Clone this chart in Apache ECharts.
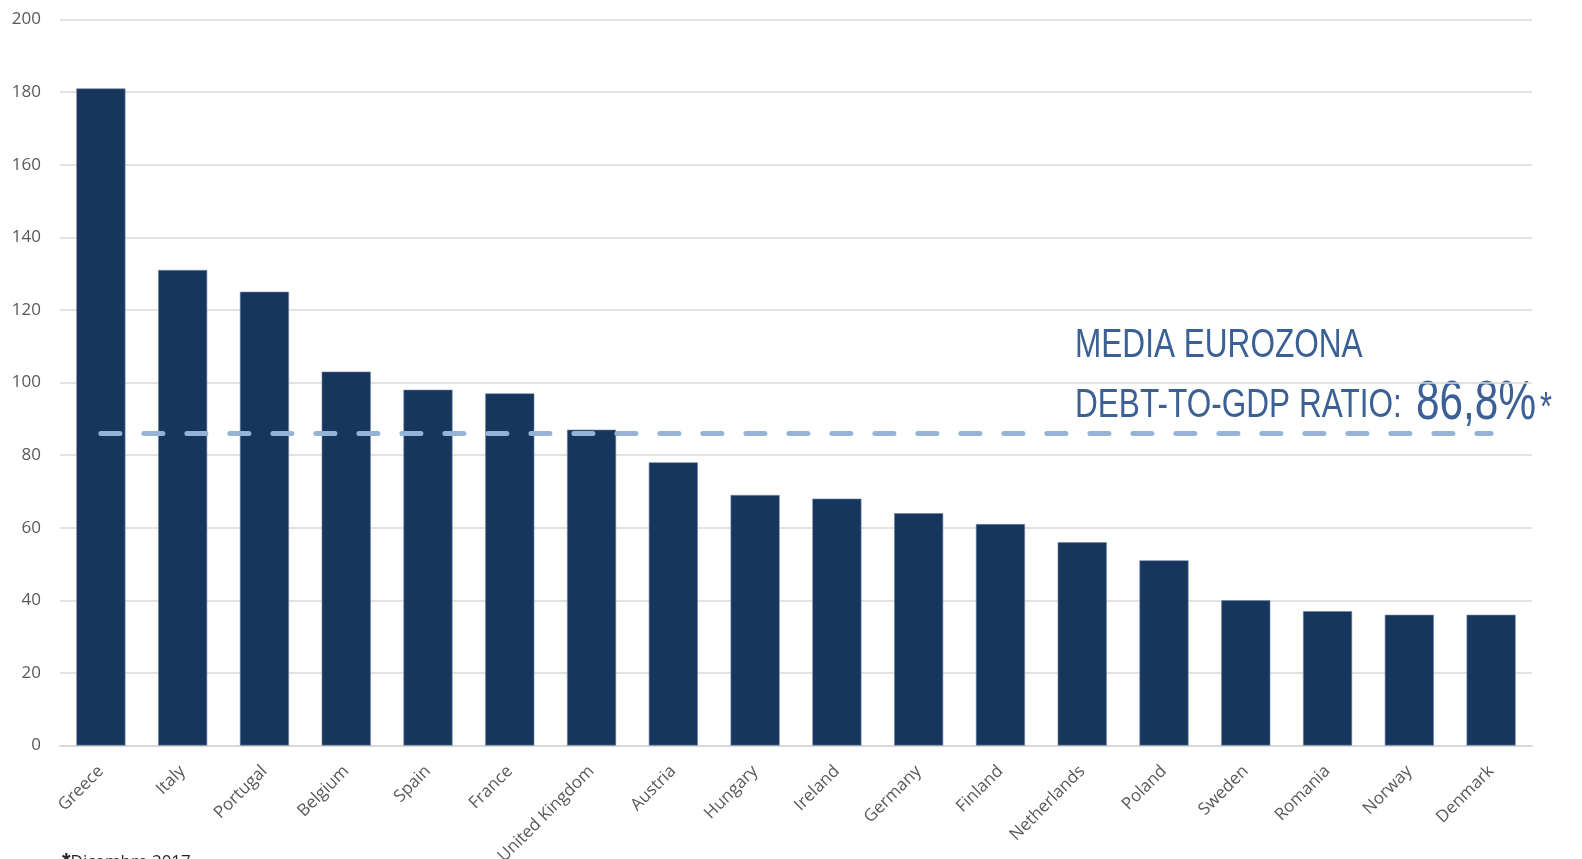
<!DOCTYPE html>
<html>
<head>
<meta charset="utf-8">
<script src="https://cdn.jsdelivr.net/npm/echarts@6/dist/echarts.min.js"></script>
<style>
  html, body { margin: 0; padding: 0; background: #fff; }
  #chart { width: 1582px; height: 859px; }
</style>
</head>
<body>
<div id="chart"></div>
<script>
var countries = ['Greece', 'Italy', 'Portugal', 'Belgium', 'Spain', 'France', 'United Kingdom', 'Austria',
  'Hungary', 'Ireland', 'Germany', 'Finland', 'Netherlands', 'Poland', 'Sweden', 'Romania', 'Norway', 'Denmark'];
var debtRatio = [181, 131, 125, 103, 98, 97, 87, 78, 69, 68, 64, 61, 56, 51, 40, 37, 36, 36];
var euroAvg = 86;
var yTicks = [0, 200, 20];

var chart = echarts.init(document.getElementById('chart'));
var sans = "'Liberation Sans', Arial, sans-serif";
var blue = '#3b6095';

// condensed look: squeeze regular sans horizontally
function note(txt, x, y, size) {
  return {
    type: 'text', x: x, y: y, scaleX: 0.77, originX: 0,
    style: { text: txt, fill: blue, font: size + 'px ' + sans }
  };
}

chart.setOption({
  animation: false,
  grid: { left: 60, right: 50, top: 19.5, bottom: 113.5, containLabel: false, outerBoundsMode: 'none' },
  xAxis: {
    type: 'category',
    data: countries,
    axisTick: { show: false },
    axisLine: { lineStyle: { color: '#d9d9d9', width: 2 } },
    axisLabel: { rotate: 45, color: '#595959', fontSize: 17, fontFamily: "'Open Sans', sans-serif", margin: 23, interval: 0 }
  },
  yAxis: {
    type: 'value',
    min: yTicks[0], max: yTicks[1], interval: yTicks[2],
    axisLine: { show: false },
    axisTick: { show: false },
    splitLine: { lineStyle: { color: '#d9d9d9', width: 1.5 } },
    axisLabel: { color: '#595959', fontSize: 17, fontFamily: "'Open Sans', sans-serif", margin: 19 }
  },
  series: [{
    type: 'bar',
    data: debtRatio,
    barCategoryGap: '40%',
    itemStyle: { color: '#17365d', borderColor: '#6d84a3', borderWidth: 0.6 },
    markLine: {
      silent: true,
      symbol: 'none',
      label: { show: false },
      lineStyle: { color: '#95b3d7', width: 5, type: [19, 24], cap: 'round' },
      data: [[{ coord: [countries[0], euroAvg] }, { coord: [countries[countries.length - 1], euroAvg] }]]
    }
  }],
  graphic: [
    note('MEDIA EUROZONA', 1075, 325, 41),
    note('DEBT-TO-GDP RATIO:', 1075, 385, 41),
    note('86,8%', 1416, 376, 55),
    note('*', 1540, 389, 40),
    {
      type: 'text', left: 62, top: 851,
      style: { text: '{s|*}Dicembre 2017', fill: '#262626', font: "17px 'Open Sans', sans-serif",
        rich: { s: { fontSize: 22, fontWeight: 'bold', fill: '#262626' } } }
    }
  ]
});
</script>
</body>
</html>
